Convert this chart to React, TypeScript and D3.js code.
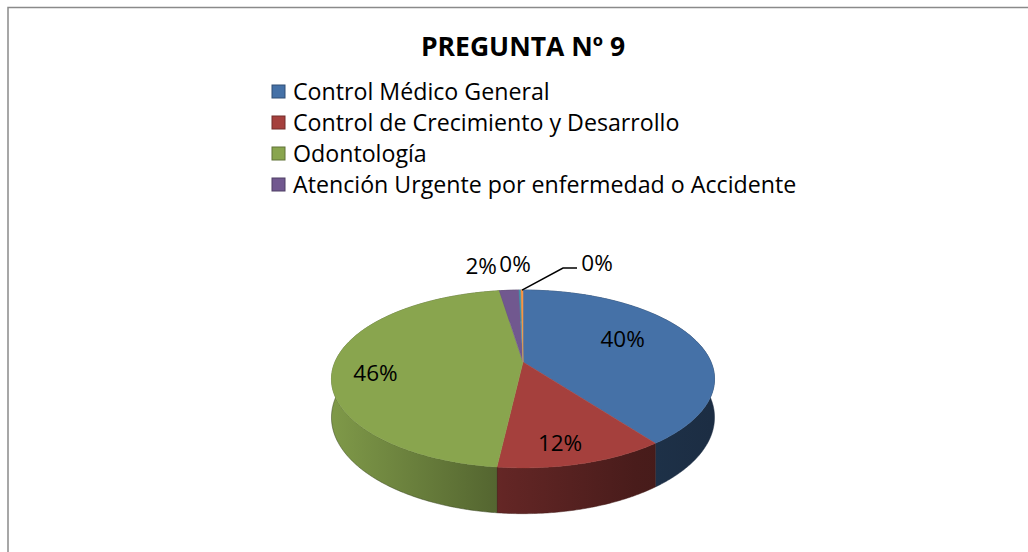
import React from 'react';
import * as d3 from 'd3';

const categories = [
  'Control Médico General',
  'Control de Crecimiento y Desarrollo',
  'Odontología',
  'Atención Urgente por enfermedad o Accidente',
  'Otro A',
  'Otro B',
];
const values = [40, 12, 46, 2, 0.2, 0.2];
const labelTexts = ['40%', '12%', '46%', '2%', '0%', '0%'];
const colors = ['#4571a7', '#a5403d', '#89a54e', '#71588f', '#4198af', '#f79646'];
const legendCount = 4;
const titleText = 'PREGUNTA Nº 9';

// label placement tweaks (styling): radius factor and offsets
const labelR = [0.65, 0.65, 0.65, 1, 1, 1];
const labelDx = [-12, 1, -25, -28, -5, 75];
const labelDy = [-7, 19, 9, -25, -27, -28];

const W = 1028, H = 552;
const cx = 523, cy = 362, A = 188, B = 85.7, K = 0.191, T = 37;
const FONT = '"Open Sans", Lato, sans-serif';

function proj(theta: number, r = 1, drop = 0): [number, number] {
  const u = r * Math.sin(theta);
  const v = -r * Math.cos(theta);
  const d = 1 - K * v;
  return [cx + (A * u) / d, cy + (B * v) / d + (drop * T) / d];
}

function arcPts(a0: number, a1: number, drop: number): [number, number][] {
  const n = Math.max(2, Math.ceil((a1 - a0) / 0.01));
  const pts: [number, number][] = [];
  for (let i = 0; i <= n; i++) pts.push(proj(a0 + ((a1 - a0) * i) / n, 1, drop));
  return pts;
}

function shade(c: string, f: number) {
  const col = d3.rgb(c);
  return d3.rgb(col.r * f, col.g * f, col.b * f).formatHex();
}

export default function App() {
  const pie = d3.pie<number>().sort(null).startAngle(0).endAngle(2 * Math.PI)(values);
  const line = d3.line();

  return (
    <svg width={W} height={H} style={{ position: 'absolute', left: 0, top: 0, background: '#fff' }}>
      <defs>
        {colors.map((c, i) => (
          <linearGradient key={i} id={`side${i}`} gradientUnits="userSpaceOnUse" x1={cx - A} y1={0} x2={cx + A} y2={0}>
            <stop offset="0" stopColor={shade(c, 0.92)} />
            <stop offset="0.45" stopColor={shade(c, 0.6)} />
            <stop offset="0.8" stopColor={shade(c, 0.44)} />
            <stop offset="1" stopColor={shade(c, 0.4)} />
          </linearGradient>
        ))}
      </defs>
      <rect x={8} y={7.5} width={1040} height={560} fill="#fff" stroke="#8a8a8a" strokeWidth={1.5} />
      <text x={523} y={56} textAnchor="middle" fontFamily={FONT} fontWeight="bold" fontSize={26.5} fill="#000">
        {titleText}
      </text>
      {categories.slice(0, legendCount).map((name, i) => (
        <g key={name}>
          <rect x={272} y={85 + i * 31} width={13} height={13} fill={colors[i]} stroke={shade(colors[i], 0.7)} strokeWidth={1} />
          <text x={293} y={99.5 + i * 31} fontFamily={FONT} fontSize={23.2} fill="#000">
            {name}
          </text>
        </g>
      ))}
      {/* side walls */}
      {pie.map((p, i) => {
        const top = arcPts(p.startAngle, p.endAngle, 0);
        const bot = arcPts(p.startAngle, p.endAngle, 1).reverse();
        return <path key={`w${i}`} d={line([...top, ...bot]) + 'Z'} fill={`url(#side${i})`} stroke={shade(colors[i], 0.4)} strokeWidth={0.5} />;
      })}
      {/* top faces */}
      {pie.map((p, i) => {
        const pts = [proj(0, 0), ...arcPts(p.startAngle, p.endAngle, 0)];
        return <path key={`t${i}`} d={line(pts) + 'Z'} fill={colors[i]} stroke={colors[i]} strokeWidth={0.5} />;
      })}
      {/* labels */}
      {pie.map((p, i) => {
        const mid = (p.startAngle + p.endAngle) / 2;
        const [x0, y0] = proj(mid, labelR[i]);
        const lx = x0 + labelDx[i];
        const ly = y0 + labelDy[i];
        const leader = i === 5;
        return (
          <g key={`l${i}`}>
            {leader && (
              <path d={line([proj(mid, 1), [lx - 34, ly + 6], [lx - 20, ly + 6]]) || ''} fill="none" stroke="#000" strokeWidth={1.5} />
            )}
            <text x={lx} y={ly} textAnchor="middle" dominantBaseline="central" fontFamily={FONT} fontSize={22.5} fill="#000">
              {labelTexts[i]}
            </text>
          </g>
        );
      })}
    </svg>
  );
}
